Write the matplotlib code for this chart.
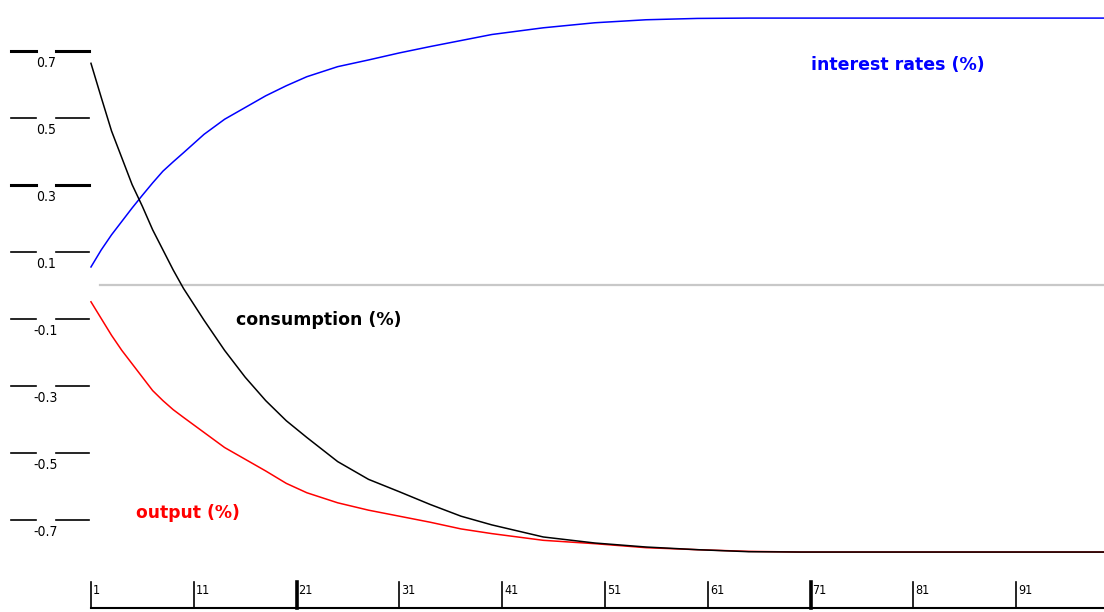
import matplotlib as mpl
mpl.use('Agg')
import matplotlib.pyplot as plt
import matplotlib.transforms as mtransforms

periods = [1, 2, 3, 4, 5, 6, 7, 8, 9, 10, 12, 14, 16, 18, 20, 22, 25, 28, 31,
           34, 37, 40, 45, 50, 55, 60, 65, 70, 80, 90, 100]
interest = [0.054, 0.105, 0.150, 0.190, 0.230, 0.268, 0.305, 0.340, 0.368, 0.395,
            0.450, 0.495, 0.530, 0.565, 0.595, 0.622, 0.652, 0.672, 0.693,
            0.712, 0.730, 0.748, 0.768, 0.783, 0.792, 0.796, 0.797, 0.797,
            0.797, 0.797, 0.797]
consumption = [0.662, 0.560, 0.460, 0.380, 0.300, 0.235, 0.165, 0.105, 0.045, -0.010,
               -0.105, -0.195, -0.275, -0.345, -0.405, -0.455, -0.527, -0.580, -0.617,
               -0.655, -0.690, -0.716, -0.752, -0.770, -0.782, -0.790, -0.796, -0.797,
               -0.797, -0.797, -0.797]
output = [-0.050, -0.100, -0.150, -0.195, -0.235, -0.275, -0.315, -0.345, -0.372, -0.395,
          -0.440, -0.485, -0.520, -0.555, -0.592, -0.620, -0.650, -0.672, -0.690,
          -0.708, -0.728, -0.742, -0.762, -0.772, -0.784, -0.790, -0.795, -0.797,
          -0.797, -0.797, -0.797]

ytick_vals = [0.7, 0.5, 0.3, 0.1, -0.1, -0.3, -0.5, -0.7]
ytick_bold = [0.7, 0.3]
xtick_vals = [1, 11, 21, 31, 41, 51, 61, 71, 81, 91]
xtick_bold = [21, 71]

W, H = 1104, 612
fig = plt.figure(figsize=(W / 100, H / 100), dpi=100)
ax = fig.add_axes([0, 0, 1, 1])
ax.set_xlim(-7.85, 99.55)
ax.set_ylim(-0.976, 0.851)
ax.axis('off')

tick_font = ['Liberation Sans Narrow', 'DejaVu Sans']

# zero line
ax.axhline(0, xmin=100 / W, xmax=1, color='#c8c8c8', lw=1.6, zorder=1)

# y ticks: two short dashes with the label below, between them
tr_y = mtransforms.blended_transform_factory(ax.transAxes, ax.transData)
for v in ytick_vals:
    lw = 2.2 if v in ytick_bold else 1.2
    ax.axhline(v, xmin=11 / W, xmax=36 / W, color='black', lw=lw)
    ax.axhline(v, xmin=56 / W, xmax=89 / W, color='black', lw=lw)
    ax.text(46 / W, v - 0.036, f'{v:.1f}', transform=tr_y, ha='center',
            va='center', fontsize=10, family=tick_font, stretch='condensed')

# x axis
x_axis_y = -0.964
ax.plot([1, 99.55], [x_axis_y, x_axis_y], color='black', lw=1.5, clip_on=False)
for v in xtick_vals:
    lw = 2.6 if v in xtick_bold else 1.2
    ax.plot([v, v], [x_axis_y, -0.887], color='black', lw=lw)
    ax.text(v + 0.2, -0.913, str(v), ha='left', va='center', fontsize=9,
            family=tick_font, stretch='condensed')

ax.plot(periods, interest, color='#0000ff', lw=1.1, zorder=3)
ax.plot(periods, output, color='#ff0000', lw=1.1, zorder=3)
ax.plot(periods, consumption, color='black', lw=1.1, zorder=4)

ax.text(71.0, 0.656, 'interest rates (%)', color='#0000ff', fontsize=12.5,
        fontweight='bold', ha='left', va='center')
ax.text(15.1, -0.105, 'consumption (%)', color='black', fontsize=12.5,
        fontweight='bold', ha='left', va='center')
ax.text(5.4, -0.68, 'output (%)', color='#ff0000', fontsize=12.3,
        fontweight='bold', ha='left', va='center')

fig.savefig('out.png', dpi=100)
